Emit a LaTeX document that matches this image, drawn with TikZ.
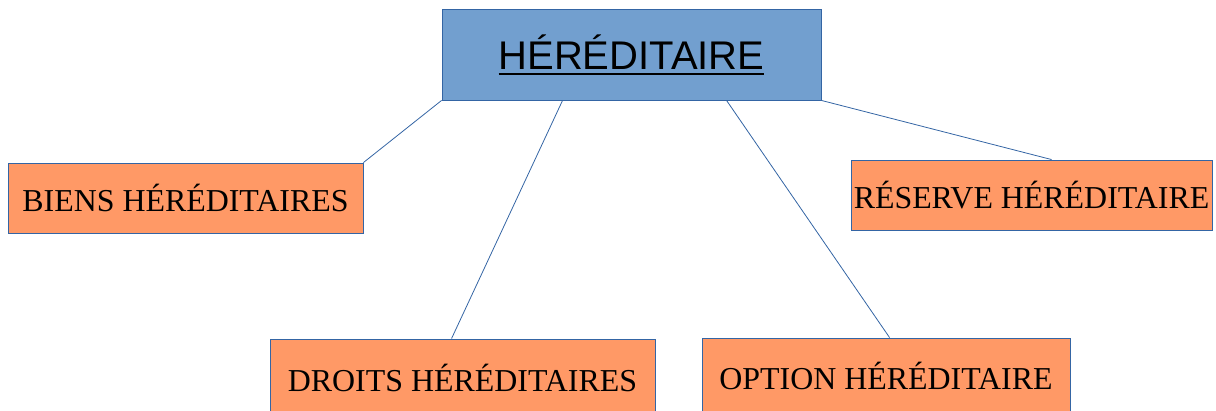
\documentclass[tikz,border=0pt]{standalone}
\usepackage{fontspec}
\setmainfont{Liberation Serif}
\newfontfamily\headfont{Liberation Sans}
\usetikzlibrary{calc}
\definecolor{topfill}{HTML}{729FCF}
\definecolor{boxfill}{HTML}{FF9966}
\definecolor{edgeblue}{HTML}{3465A4}
\tikzset{
  topbox/.style={draw=edgeblue, line width=0.9pt, fill=topfill, inner sep=0pt,
    minimum width=379pt, minimum height=91pt,
    font=\headfont\fontsize{40}{42}\selectfont},
  leafbox/.style={draw=edgeblue, line width=0.9pt, fill=boxfill, inner sep=0pt,
    font=\fontsize{31.9}{33}\selectfont},
  link/.style={draw=edgeblue, line width=0.8pt}
}
\newcommand\ulhead[1]{\setbox0\hbox{#1}\rlap{\rule[-5.5pt]{\wd0}{1.8pt}}\box0}
\begin{document}
\begin{tikzpicture}[x=1pt,y=1pt]
\useasboundingbox (0,0) rectangle (1216,410);
\node[topbox] (top) at (631.5,355.5) {\ulhead{HÉRÉDITAIRE}};
\node[leafbox, minimum width=355pt, minimum height=70pt] (biens) at (185.5,212) {BIENS HÉRÉDITAIRES};
\node[leafbox, minimum width=361pt, minimum height=70pt] (reserve) at (1031.5,215) {RÉSERVE HÉRÉDITAIRE};
\node[leafbox, minimum width=385pt, minimum height=77pt] (droits) at (462.5,32.5) {DROITS HÉRÉDITAIRES};
\node[leafbox, minimum width=368pt, minimum height=76pt] (option) at (886,34) {OPTION HÉRÉDITAIRE};
\draw[link] (top.south west) -- (biens.north east);
\draw[link] ($(top.south west)+(121,0)$) -- ($(droits.north west)+(182,0)$);
\draw[link] ($(top.south west)+(285,0)$) -- ($(option.north west)+(188,0)$);
\draw[link] (top.south east) -- ($(reserve.north west)+(201,0)$);
\end{tikzpicture}
\end{document}
